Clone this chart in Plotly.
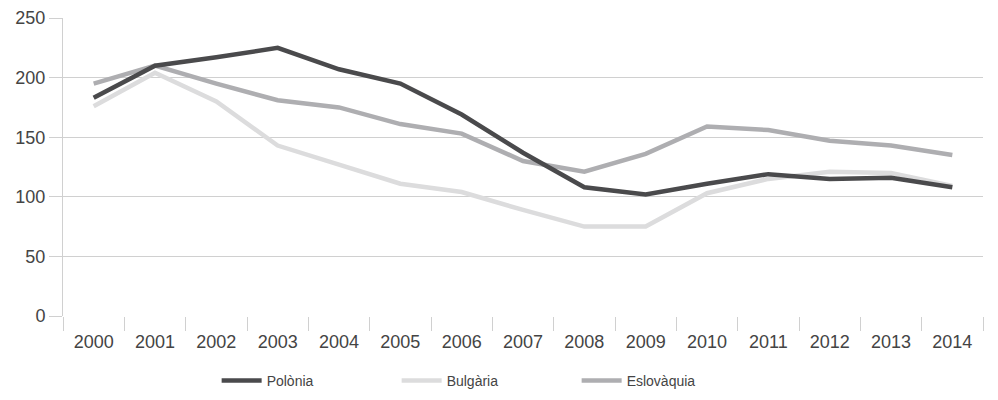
import plotly.graph_objects as go

years = [str(y) for y in range(2000, 2015)]

polonia = [183, 210, 217, 225, 207, 195, 169, 137, 108, 102, 111, 119, 115, 116, 108]
bulgaria = [176, 204, 180, 143, 127, 111, 104, 89, 75, 75, 103, 115, 121, 120, 109]
eslovaquia = [195, 210, 195, 181, 175, 161, 153, 130, 121, 136, 159, 156, 147, 143, 135]

series = [
    ("Polònia", polonia, "#4a4a4c", 1),
    ("Bulgària", bulgaria, "#dcdcdd", 2),
    ("Eslovàquia", eslovaquia, "#aeaeb1", 3),
]

fig = go.Figure()
# draw order: light lines below, dark on top
for name, vals, col, rank in [series[1], series[2], series[0]]:
    fig.add_trace(go.Scatter(x=years, y=vals, name=name, mode="lines",
                             legendrank=rank,
                             line=dict(color=col, width=4.5)))

# page body has an 8px margin, so margins are offset by it
fig.update_layout(
    width=998, height=400,
    margin=dict(l=55, r=23, t=10, b=92, autoexpand=False),
    paper_bgcolor="white", plot_bgcolor="white",
    font=dict(family="Liberation Sans, Arial, sans-serif", size=18, color="#444444"),
    showlegend=True,
    legend=dict(orientation="h", x=0.167, xanchor="left", y=-0.218, yanchor="middle",
                font=dict(size=14), itemwidth=40,
                entrywidth=125, entrywidthmode="pixels"),
)

fig.update_xaxes(
    type="category", range=[-0.5, 14.5], tickson="boundaries", ticks="outside",
    ticklen=14, tickcolor="#d0d0d0", tickwidth=1, showgrid=False,
    showline=False, zeroline=False, ticklabelstandoff=13,
)
fig.update_yaxes(
    range=[0, 250], dtick=50, tick0=0, ticks="outside", ticklen=13,
    tickcolor="#d0d0d0", showgrid=True, gridcolor="#d0d0d0", gridwidth=1,
    showline=True, linecolor="#d0d0d0", linewidth=1, zeroline=False,
)

fig.write_html("out.html")
